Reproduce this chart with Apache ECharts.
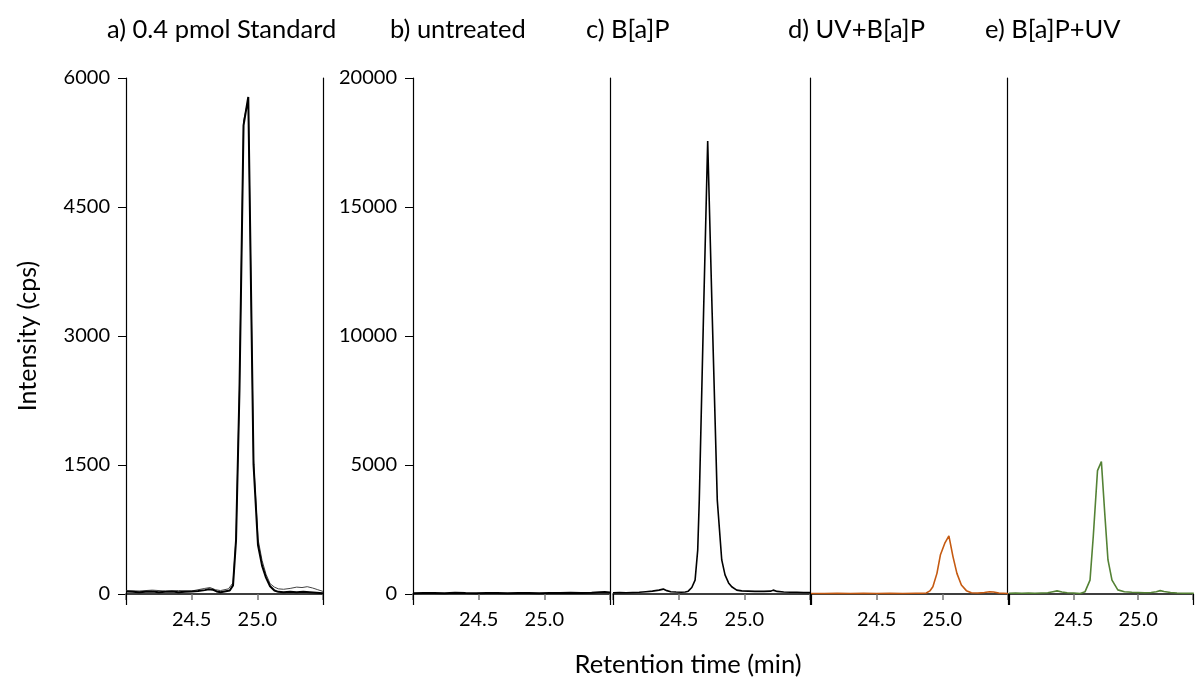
<!DOCTYPE html>
<html>
<head>
<meta charset="utf-8">
<script src="https://cdn.jsdelivr.net/npm/echarts@6/dist/echarts.min.js"></script>
<style>
html,body{margin:0;padding:0;background:#fff;}
#chart{width:1196px;height:681px;}
</style>
</head>
<body>
<div id="chart"></div>
<script>
// Panel titles
const panelTitles = ['a) 0.4 pmol Standard', 'b) untreated', 'c) B[a]P', 'd) UV+B[a]P', 'e) B[a]P+UV'];
const xLabelsShown = ['24.5', '25.0'];
const yTicksA = [0, 1500, 3000, 4500, 6000];
const yTicksB = [0, 5000, 10000, 15000, 20000];

// [retention time (min), intensity (cps)]
const standardMain = [[24.00,30],[24.05,25],[24.10,20],[24.15,25],[24.20,30],[24.25,20],[24.30,25],[24.35,30],[24.40,20],[24.45,25],[24.50,30],[24.55,35],[24.60,45],[24.63,55],[24.66,50],[24.69,30],[24.72,20],[24.75,30],[24.79,40],[24.815,100],[24.838,630],[24.864,2370],[24.895,5450],[24.931,5780],[24.971,1510],[25.005,570],[25.036,330],[25.066,190],[25.097,90],[25.13,40],[25.16,25],[25.2,20],[25.25,25],[25.3,20],[25.35,25],[25.4,20],[25.45,15],[25.5,10]];
const standardQual = [[24.00,40],[24.1,35],[24.2,45],[24.3,35],[24.4,40],[24.5,35],[24.6,65],[24.64,75],[24.68,50],[24.72,40],[24.78,60],[24.815,130],[24.838,660],[24.864,2420],[24.895,5500],[24.931,5750],[24.971,1560],[25.005,640],[25.036,390],[25.066,230],[25.097,120],[25.13,80],[25.16,60],[25.2,55],[25.25,65],[25.3,80],[25.34,75],[25.38,85],[25.42,70],[25.46,50],[25.5,30]];
const untreated = [[24.0,30],[24.08,40],[24.16,35],[24.24,30],[24.32,45],[24.4,35],[24.48,30],[24.56,40],[24.64,35],[24.72,30],[24.8,40],[24.88,35],[24.96,30],[25.04,40],[25.12,35],[25.2,45],[25.28,40],[25.36,50],[25.42,70],[25.46,80],[25.5,60]];
const bapTreated = [[24.0,50],[24.05,60],[24.1,50],[24.15,60],[24.2,70],[24.25,90],[24.3,110],[24.35,150],[24.383,190],[24.41,130],[24.44,90],[24.48,75],[24.52,70],[24.55,80],[24.573,110],[24.6,250],[24.625,540],[24.645,1700],[24.657,3640],[24.69,11000],[24.721,17560],[24.755,10900],[24.794,3640],[24.828,1320],[24.853,740],[24.88,430],[24.904,280],[24.942,150],[24.98,120],[25.03,110],[25.08,100],[25.15,100],[25.2,110],[25.22,150],[25.25,100],[25.3,80],[25.35,70],[25.4,70],[25.45,60],[25.5,60]];
const uvThenBap = [[24.0,20],[24.1,20],[24.2,25],[24.3,20],[24.4,25],[24.5,20],[24.6,25],[24.7,20],[24.8,30],[24.85,30],[24.878,40],[24.905,120],[24.928,280],[24.959,800],[24.985,1510],[25.018,1960],[25.05,2250],[25.081,1450],[25.111,800],[25.145,350],[25.183,130],[25.221,50],[25.27,40],[25.32,60],[25.36,90],[25.39,80],[25.43,40],[25.5,20]];
const bapThenUv = [[24.0,30],[24.05,40],[24.1,30],[24.15,40],[24.2,30],[24.25,40],[24.3,50],[24.34,90],[24.372,120],[24.41,80],[24.45,50],[24.5,40],[24.551,20],[24.589,90],[24.627,540],[24.652,2220],[24.685,4780],[24.715,5130],[24.741,3130],[24.766,1320],[24.797,540],[24.842,160],[24.893,90],[24.95,70],[25.0,60],[25.05,50],[25.1,60],[25.14,90],[25.17,130],[25.2,100],[25.25,60],[25.3,40],[25.35,30],[25.4,30],[25.43,30]];

const FONT = 'Lato';
const chart = echarts.init(document.getElementById('chart'), null, {renderer: 'canvas'});

const gridLefts = [126, 413, 613, 811, 1009];
const xMaxes = [25.5, 25.5, 25.5, 25.5, 25.424];
const gridWidths = [197, 197, 197, 197, 187];

const grids = gridLefts.map((l, i) => ({left: l, width: gridWidths[i], top: 78, height: 516}));

const xAxes = gridLefts.map((l, i) => ({
  type: 'value', gridIndex: i, min: 24.0, max: xMaxes[i], interval: 0.5, position: 'bottom',
  axisLine: {show: true, lineStyle: {color: '#000', width: 1.5}},
  axisTick: {show: true, length: 6, lineStyle: {color: '#777', width: 1.5}},
  axisLabel: {
    show: true, margin: 16, color: '#000', fontFamily: FONT, fontSize: 20,
    formatter: v => { const s = v.toFixed(1); return xLabelsShown.includes(s) ? s : ''; }
  },
  splitLine: {show: false}
}));
// long edge ticks continuing the panel frame lines below the baseline
gridLefts.forEach((l, i) => xAxes.push({
  type: 'value', gridIndex: i, min: 24.0, max: xMaxes[i], interval: 1.5, position: 'bottom', offset: 0,
  axisLine: {show: false},
  axisTick: {show: true, length: 11, lineStyle: {color: '#000', width: 1.2}},
  axisLabel: {show: false}, splitLine: {show: false}
}));

const yLabelStyle = {margin: 16, color: '#000', fontFamily: FONT, fontSize: 20, formatter: v => String(v)};
const yAxes = [
  {type: 'value', gridIndex: 0, min: yTicksA[0], max: yTicksA[yTicksA.length-1], interval: yTicksA[1]-yTicksA[0],
   name: 'Intensity (cps)', nameLocation: 'middle', nameGap: 86, nameRotate: 90,
   nameTextStyle: {fontFamily: FONT, fontSize: 25, color: '#000'},
   axisLine: {show: true, lineStyle: {color: '#000', width: 1.2}},
   axisTick: {show: true, length: 8, lineStyle: {color: '#000'}},
   axisLabel: yLabelStyle,
   splitLine: {show: false}},
  {type: 'value', gridIndex: 0, position: 'right', min: 0, max: 6000,
   axisLine: {show: true, lineStyle: {color: '#000', width: 1.2}},
   axisTick: {show: false}, axisLabel: {show: false}, splitLine: {show: false}},
  {type: 'value', gridIndex: 1, min: yTicksB[0], max: yTicksB[yTicksB.length-1], interval: yTicksB[1]-yTicksB[0],
   axisLine: {show: true, lineStyle: {color: '#000', width: 1.2}},
   axisTick: {show: true, length: 8, lineStyle: {color: '#000'}},
   axisLabel: yLabelStyle,
   splitLine: {show: false}},
];
const extraOffsets = {2: 3, 3: 1, 4: 2};
[2, 3, 4].forEach(g => yAxes.push({
  type: 'value', gridIndex: g, min: 0, max: 20000, offset: extraOffsets[g],
  axisLine: {show: true, lineStyle: {color: '#000', width: 1.2}},
  axisTick: {show: false}, axisLabel: {show: false}, splitLine: {show: false}
}));

const mk = (data, xi, yi, color, width, z) => ({
  type: 'line', xAxisIndex: xi, yAxisIndex: yi, data: data, showSymbol: false,
  lineStyle: {color: color, width: width}, z: z || 2, animation: false
});

const titleLefts = [107, 390, 586, 788, 985];
const titleStyle = {fontFamily: FONT, fontSize: 25.5, fontWeight: 'normal', color: '#000'};
const titles = panelTitles.map((t, i) => ({text: t, left: titleLefts[i], top: 17, padding: 0, textStyle: titleStyle}));
titles.push({text: 'Retention time (min)', left: 688, textAlign: 'center', top: 652, padding: 0, textStyle: titleStyle});

chart.setOption({
  animation: false,
  backgroundColor: '#fff',
  title: titles,
  grid: grids,
  xAxis: xAxes,
  yAxis: yAxes,
  series: [
    mk(standardQual, 0, 0, '#444', 1, 2),
    mk(standardMain, 0, 0, '#000', 2, 3),
    mk(untreated, 1, 2, '#000', 2),
    mk(bapTreated, 2, 3, '#000', 1.6),
    mk(uvThenBap, 3, 4, '#C55A11', 1.6),
    mk(bapThenUv, 4, 5, '#548235', 1.6)
  ]
});
</script>
</body>
</html>
